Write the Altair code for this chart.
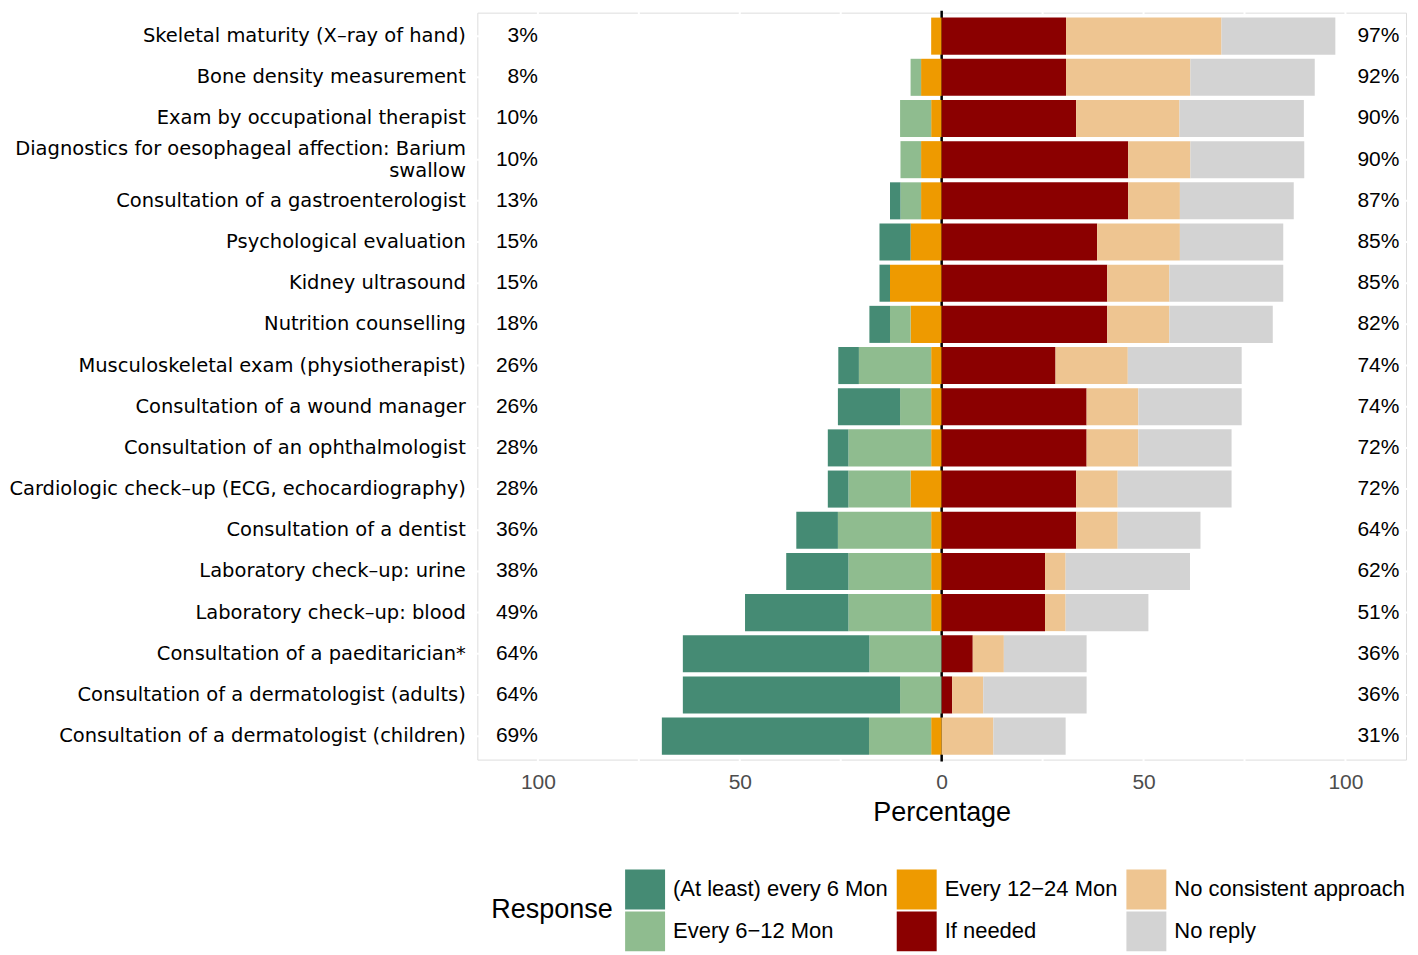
import altair as alt
import pandas as pd

categories = [
    "Skeletal maturity (X–ray of hand)",
    "Bone density measurement",
    "Exam by occupational therapist",
    "Diagnostics for oesophageal affection: Barium swallow",
    "Consultation of a gastroenterologist",
    "Psychological evaluation",
    "Kidney ultrasound",
    "Nutrition counselling",
    "Musculoskeletal exam (physiotherapist)",
    "Consultation of a wound manager",
    "Consultation of an ophthalmologist",
    "Cardiologic check–up (ECG, echocardiography)",
    "Consultation of a dentist",
    "Laboratory check–up: urine",
    "Laboratory check–up: blood",
    "Consultation of a paeditarician*",
    "Consultation of a dermatologist (adults)",
    "Consultation of a dermatologist (children)",
]

responses = ["(At least) every 6 Mon", "Every 6−12 Mon", "Every 12−24 Mon",
             "If needed", "No consistent approach", "No reply"]

at_least_6 = [0, 0, 0, 0, 2.6, 7.7, 2.6, 5.1, 5.1, 15.4, 5.1, 5.1, 10.3, 15.4, 25.6, 46.2, 53.8, 51.3]
every_6_12 = [0, 2.6, 7.7, 5.1, 5.1, 0, 0, 5.1, 17.9, 7.7, 20.5, 15.4, 23.1, 20.5, 20.5, 17.9, 10.3, 15.4]
every_12_24 = [2.6, 5.1, 2.6, 5.1, 5.1, 7.7, 12.8, 7.7, 2.6, 2.6, 2.6, 7.7, 2.6, 2.6, 2.6, 0, 0, 2.6]
if_needed = [30.8, 30.8, 33.3, 46.2, 46.2, 38.5, 41.0, 41.0, 28.2, 35.9, 35.9, 33.3, 33.3, 25.6, 25.6, 7.7, 2.6, 0]
no_consistent = [38.5, 30.8, 25.6, 15.4, 12.8, 20.5, 15.4, 15.4, 17.9, 12.8, 12.8, 10.3, 10.3, 5.1, 5.1, 7.7, 7.7, 12.8]
no_reply = [28.2, 30.8, 30.8, 28.2, 28.2, 25.6, 28.2, 25.6, 28.2, 25.6, 23.1, 28.2, 20.5, 30.8, 20.5, 20.5, 25.6, 17.9]

left_pct = ["3%", "8%", "10%", "10%", "13%", "15%", "15%", "18%", "26%", "26%", "28%", "28%", "36%", "38%", "49%", "64%", "64%", "69%"]
right_pct = ["97%", "92%", "90%", "90%", "87%", "85%", "85%", "82%", "74%", "74%", "72%", "72%", "64%", "62%", "51%", "36%", "36%", "31%"]

colors = {
    "(At least) every 6 Mon": "#458B74",
    "Every 6−12 Mon": "#8FBC8F",
    "Every 12−24 Mon": "#EE9A00",
    "If needed": "#8B0000",
    "No consistent approach": "#EEC591",
    "No reply": "#D3D3D3",
}
grid_x = [-100, -75, -50, -25, 25, 50, 75, 100]
tick_x = [-100, -50, 0, 50, 100]

# build segment table (left side stacks outward from 0, right side too)
rows = []
for i, cat in enumerate(categories):
    o, lg, dg = every_12_24[i], every_6_12[i], at_least_6[i]
    r, p, g = if_needed[i], no_consistent[i], no_reply[i]
    segs = [
        (responses[2], -o, 0),
        (responses[1], -(o + lg), -o),
        (responses[0], -(o + lg + dg), -(o + lg)),
        (responses[3], 0, r),
        (responses[4], r, r + p),
        (responses[5], r + p, r + p + g),
    ]
    for name, a, b in segs:
        if b - a > 0:
            rows.append({"cat": cat, "resp": name, "x1": a, "x2": b})
df = pd.DataFrame(rows)

txt = pd.DataFrame({"cat": categories, "lp": left_pct, "rp": right_pct})
gv = pd.DataFrame({"gx": grid_x})
zero = pd.DataFrame({"gx": [0]})

LONG = "Diagnostics for oesophageal affection: Barium swallow"

W, H = 930, 748
xscale = alt.Scale(domain=[-115, 115], nice=False, zero=False)
yscale = alt.Scale(domain=categories, paddingInner=0.1, paddingOuter=0.12)
xaxis = alt.Axis(values=tick_x, labelExpr="abs(datum.value)", ticks=False, domain=False,
                 grid=False, labelFont="Liberation Sans", labelFontSize=21,
                 labelColor="#4D4D4D", labelPadding=12, titleFont="Liberation Sans",
                 titleFontSize=27, titleFontWeight="normal", titleColor="#000000",
                 titlePadding=7)
yaxis = alt.Axis(ticks=False, domain=False, grid=False, labelFont="DejaVu Sans",
                 labelFontSize=19.5, labelColor="#000000", labelPadding=12, labelLimit=800,
                 labelLineHeight=22, title=None,
                 labelOffset={"condition": {"test": f"datum.label == '{LONG}'", "value": -11},
                              "value": 0},
                 labelExpr=f"datum.label == '{LONG}' ? ['Diagnostics for oesophageal affection: Barium', 'swallow'] : datum.label")

def X(field):
    return alt.X(field, type="quantitative", scale=xscale, axis=xaxis, title="Percentage")

def Y():
    return alt.Y("cat:N", scale=yscale, axis=yaxis, sort=categories)

vgrid = alt.Chart(gv).mark_rule(color="white", strokeWidth=2).encode(
    x=X("gx"), y=alt.value(-3), y2=alt.value(H + 3))
hgrid = alt.Chart(txt).mark_rule(color="white", strokeWidth=2).encode(
    y=Y(), x=alt.value(-3), x2=alt.value(W + 3))
zline = alt.Chart(zero).mark_rule(color="black", strokeWidth=2.5).encode(
    x=X("gx"), y=alt.value(-2), y2=alt.value(H + 2))

legend_order = [responses[0], responses[2], responses[4], responses[1], responses[3], responses[5]]
bars = alt.Chart(df).mark_bar(opacity=1).encode(
    y=Y(),
    x=X("x1"),
    x2="x2",
    color=alt.Color("resp:N",
                    scale=alt.Scale(domain=legend_order, range=[colors[k] for k in legend_order]),
                    legend=alt.Legend(title="Response", orient="none", legendX=14, legendY=858,
                                      columns=3, direction="horizontal", titleOrient="left",
                                      titleAnchor="middle", titleFont="Liberation Sans",
                                      titleFontSize=27, titleFontWeight="normal",
                                      titleColor="#000000", titlePadding=12,
                                      labelFont="Liberation Sans", labelFontSize=22,
                                      labelColor="#000000", labelOffset=8,
                                      symbolType="square", symbolSize=1600,
                                      symbolStrokeWidth=0, symbolOpacity=1,
                                      rowPadding=2, columnPadding=8, labelLimit=400)),
)

ltext = alt.Chart(txt).mark_text(align="right", baseline="middle", font="Liberation Sans",
                                 fontSize=21, color="#000000").encode(
    y=Y(), x=alt.datum(-100, type="quantitative", scale=xscale, axis=xaxis, title="Percentage"),
    text="lp:N")
rtext = alt.Chart(txt).mark_text(align="left", baseline="middle", font="Liberation Sans",
                                 fontSize=21, color="#000000", dx=12).encode(
    y=Y(), x=alt.datum(100, type="quantitative", scale=xscale, axis=xaxis, title="Percentage"),
    text="rp:N")

chart = alt.layer(vgrid, hgrid, zline, bars, ltext, rtext).properties(
    width=W, height=H, padding=0
).configure_view(stroke="#B3B3B3", strokeWidth=3).configure(background="white")

chart.save("out.html", embed_options={"renderer": "svg", "actions": False})
